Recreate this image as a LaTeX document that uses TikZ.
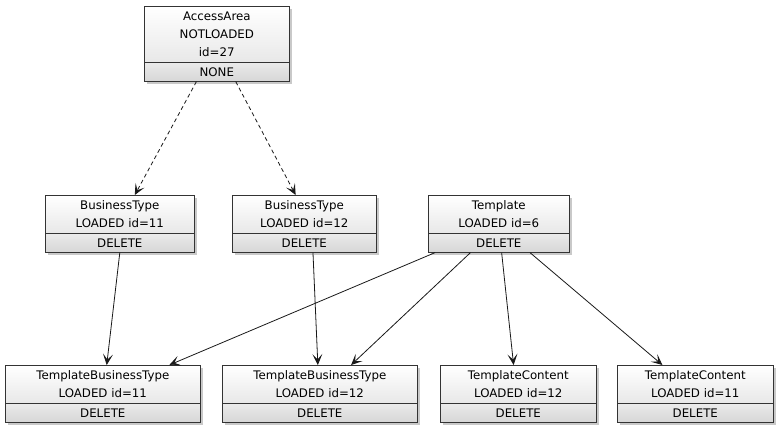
\documentclass[tikz,border=0pt]{standalone}
\usepackage{fontspec}
\setmainfont{DejaVu Sans}
\usetikzlibrary{arrows.meta,calc,shadows}
\begin{document}
\begin{tikzpicture}[x=1pt,y=-1pt,
  txt/.style={font=\fontsize{11.8}{18}\selectfont},
  upper/.style={draw=black!80, line width=0.6pt, anchor=north west, inner sep=0pt,
    top color=white, bottom color=black!9, align=center, txt,
    drop shadow={shadow xshift=2.5pt, shadow yshift=-2.5pt, fill=black!35, opacity=0.6}},
  lower/.style={draw=black!80, line width=0.6pt, anchor=north west, inner sep=0pt,
    top color=black!8, bottom color=black!16, align=center, txt,
    drop shadow={shadow xshift=2.5pt, shadow yshift=-2.5pt, fill=black!35, opacity=0.6}},
  arr/.style={draw=black!90, line width=0.8pt, -{Stealth[length=11pt,width=10pt,inset=5.5pt]}},
  darr/.style={arr, dash pattern=on 4pt off 3pt}
]
\useasboundingbox (0,0) rectangle (778,428);
\fill[white] (0,0) rectangle (778,428);

% AccessArea
\node[upper, minimum width=145pt, minimum height=56pt] (aa) at (144,6) {AccessArea\\NOTLOADED\\id=27};
\node[lower, minimum width=145pt, minimum height=19pt] (aaf) at (144,62) {NONE};

% BusinessType 11
\node[upper, minimum width=149pt, minimum height=38pt] (bt1) at (45,195) {BusinessType\\LOADED id=11};
\node[lower, minimum width=149pt, minimum height=19pt] (bt1f) at (45,233) {DELETE};

% BusinessType 12
\node[upper, minimum width=144pt, minimum height=38pt] (bt2) at (232,195) {BusinessType\\LOADED id=12};
\node[lower, minimum width=144pt, minimum height=19pt] (bt2f) at (232,233) {DELETE};

% Template
\node[upper, minimum width=141pt, minimum height=38pt] (tpl) at (428,195) {Template\\LOADED id=6};
\node[lower, minimum width=141pt, minimum height=19pt] (tplf) at (428,233) {DELETE};

% TemplateBusinessType 11
\node[upper, minimum width=195pt, minimum height=38pt] (tbt1) at (5,365) {TemplateBusinessType\\LOADED id=11};
\node[lower, minimum width=195pt, minimum height=19pt] (tbt1f) at (5,403) {DELETE};

% TemplateBusinessType 12
\node[upper, minimum width=195pt, minimum height=38pt] (tbt2) at (222,365) {TemplateBusinessType\\LOADED id=12};
\node[lower, minimum width=195pt, minimum height=19pt] (tbt2f) at (222,403) {DELETE};

% TemplateContent 12
\node[upper, minimum width=156pt, minimum height=38pt] (tc12) at (440,365) {TemplateContent\\LOADED id=12};
\node[lower, minimum width=156pt, minimum height=19pt] (tc12f) at (440,403) {DELETE};

% TemplateContent 11
\node[upper, minimum width=156pt, minimum height=38pt] (tc11) at (617,365) {TemplateContent\\LOADED id=11};
\node[lower, minimum width=156pt, minimum height=19pt] (tc11f) at (617,403) {DELETE};

% dashed connectors
\draw[darr] ($(aaf.south west)!0.36!(aaf.south east)$) -- ($(bt1.north west)!0.60!(bt1.north east)$);
\draw[darr] ($(aaf.south west)!0.63!(aaf.south east)$) -- ($(bt2.north west)!0.44!(bt2.north east)$);

% solid connectors
\draw[arr] ($(bt1f.south west)!0.50!(bt1f.south east)$) -- ($(tbt1.north west)!0.52!(tbt1.north east)$);
\draw[arr] ($(bt2f.south west)!0.56!(bt2f.south east)$) -- ($(tbt2.north west)!0.49!(tbt2.north east)$);
\draw[arr] ($(tplf.south west)!0.05!(tplf.south east)$) -- ($(tbt1.north west)!0.84!(tbt1.north east)$);
\draw[arr] ($(tplf.south west)!0.30!(tplf.south east)$) -- ($(tbt2.north west)!0.66!(tbt2.north east)$);
\draw[arr] ($(tplf.south west)!0.52!(tplf.south east)$) -- ($(tc12.north west)!0.47!(tc12.north east)$);
\draw[arr] ($(tplf.south west)!0.72!(tplf.south east)$) -- ($(tc11.north west)!0.29!(tc11.north east)$);
\end{tikzpicture}
\end{document}
